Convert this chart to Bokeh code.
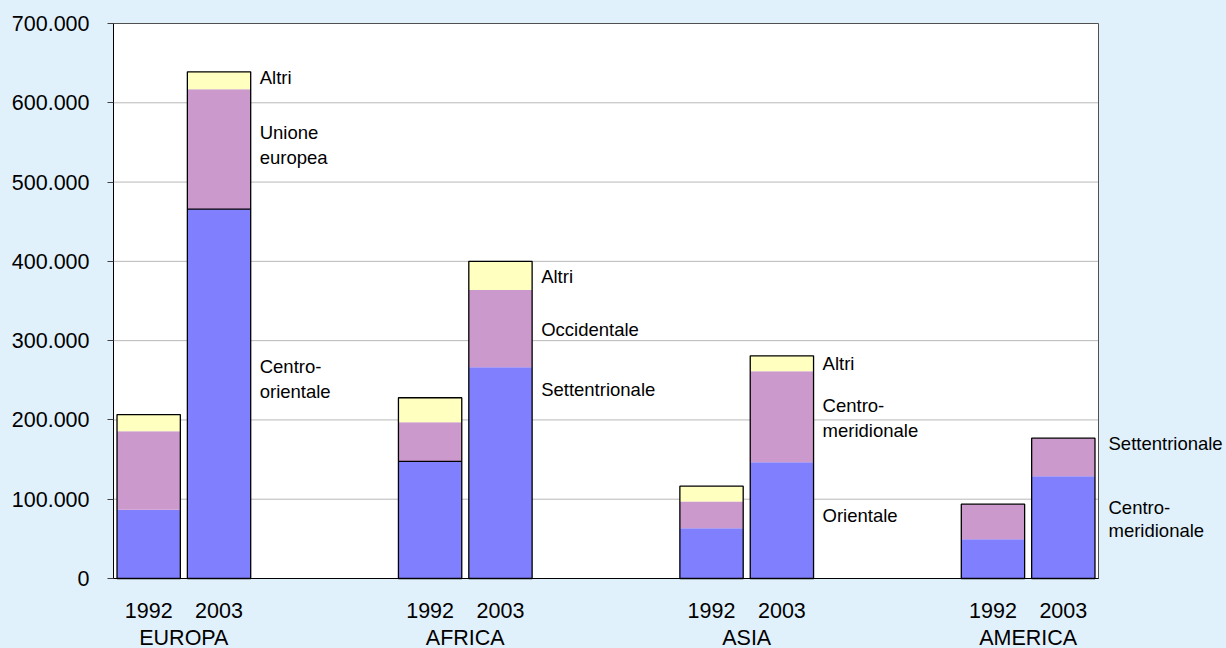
from bokeh.plotting import figure
from bokeh.models import Range1d, FixedTicker, Label, ColumnDataSource, LinearAxis
from bokeh.embed import file_html
from bokeh.resources import INLINE

# ---- data ----
groups = ["EUROPA", "AFRICA", "ASIA", "AMERICA"]
years = ["1992", "2003"]
# bars in order: EUROPA 1992, EUROPA 2003, AFRICA 1992, AFRICA 2003, ASIA 1992, ASIA 2003, AMERICA 1992, AMERICA 2003
seg_blue = [86600, 466000, 147600, 266500, 63500, 146700, 49600, 129000]
seg_purple = [99200, 151000, 49600, 97500, 33500, 114800, 44100, 48000]
seg_yellow = [21000, 22000, 30800, 36000, 19400, 19300, 0, 0]
# bars whose first segment shows a black edge on top (EUROPA 2003, AFRICA 1992)
edged_bars = [1, 2]
y_ticks = [0, 100000, 200000, 300000, 400000, 500000, 600000, 700000]
y_tick_labels = ["0", "100.000", "200.000", "300.000", "400.000", "500.000", "600.000", "700.000"]

# annotation labels next to the 2003 bars: (group index, text, value at label centre)
seg_labels = [
    (0, "Altri", 632000), (0, "Unione", 562500), (0, "europea", 531000),
    (0, "Centro-", 267400), (0, "orientale", 235900),
    (1, "Altri", 380900), (1, "Occidentale", 314100), (1, "Settentrionale", 238400),
    (2, "Altri", 271200), (2, "Centro-", 218200), (2, "meridionale", 186700), (2, "Orientale", 79500),
    (3, "Settentrionale", 170300), (3, "Centro-", 89500), (3, "meridionale", 60500),
]

BG = "#E0F1FC"
FONT = "Liberation Sans"
AX_FS = "21.5px"
ANN_FS = "18.5px"

# ---- layout (pixels) ----
W, H = 1226, 648
PL, PR, PT, PB = 113, 1098, 23, 578      # plot area edges in the page
PAD = 5                                   # frame extends a little past the plot area

SLOTS = 4  # 1992, 2003, two empty slots
xs, year_of = [], []
for gi, g in enumerate(groups):
    for yi, yv in enumerate(years):
        xs.append(gi * SLOTS + yi + 0.5)
        year_of.append(yv)
x_end = (len(groups) - 1) * SLOTS + len(years)
y_max = y_ticks[-1]
totals = [b + m + t for b, m, t in zip(seg_blue, seg_purple, seg_yellow)]
BAR_W = 0.9

px_x = x_end / (PR - PL)      # data per pixel
px_y = y_max / (PB - PT)

p = figure(width=W, height=H, output_backend="svg", toolbar_location=None,
           x_range=Range1d(-PAD * px_x, x_end + PAD * px_x),
           y_range=Range1d(-(H - PB) * px_y, y_max + PAD * px_y),
           min_border_left=PL - PAD, min_border_right=W - PR - PAD,
           min_border_top=PT - PAD, min_border_bottom=0)
p.background_fill_color = BG
p.border_fill_color = BG
p.outline_line_color = None
p.xaxis.visible = False
p.xgrid.visible = False
p.ygrid.visible = False

# white plot area
p.quad(left=[0], right=[x_end], bottom=[0], top=[y_max], fill_color="white",
       line_color=None, level="image")
# gridlines
grid_vals = y_ticks[1:-1]
p.segment(x0=[0] * len(grid_vals), x1=[x_end] * len(grid_vals), y0=grid_vals, y1=grid_vals,
          line_color="#B8B8B8", line_width=1, level="underlay")
# plot area border (top / right)
p.quad(left=[0], right=[x_end], bottom=[0], top=[y_max], fill_color=None,
       line_color="#505050", line_width=1, level="underlay")

src = ColumnDataSource(dict(x=xs, blue=seg_blue, purple=seg_purple, yellow=seg_yellow, total=totals))
p.vbar_stack(["blue", "purple", "yellow"], x="x", width=BAR_W, source=src,
             color=["#8080FF", "#CC99CC", "#FFFFC0"], line_color=None)
p.vbar(x="x", top="total", bottom=0, width=BAR_W, source=src, fill_color=None,
       line_color="black", line_width=1.3)
# black edge between first and second segment for some bars
p.segment(x0=[xs[i] - BAR_W / 2 for i in edged_bars], x1=[xs[i] + BAR_W / 2 for i in edged_bars],
          y0=[seg_blue[i] for i in edged_bars], y1=[seg_blue[i] for i in edged_bars],
          line_color="black", line_width=1.3)

# axis lines (left / bottom), black
p.segment(x0=[0, 0], x1=[0, x_end], y0=[0, 0], y1=[y_max, 0], line_color="black", line_width=1)

# y axis (ticks + labels only)
p.yaxis.ticker = FixedTicker(ticks=y_ticks)
p.yaxis.major_label_overrides = {t: l for t, l in zip(y_ticks, y_tick_labels)}
p.yaxis.minor_tick_line_color = None
p.yaxis.axis_line_color = None
p.yaxis.major_tick_out = 1
p.yaxis.major_tick_in = PAD
p.yaxis.major_tick_line_color = "#404040"
p.yaxis.major_label_standoff = 18
p.yaxis.major_label_text_font = FONT
p.yaxis.major_label_text_font_size = AX_FS
p.yaxis.major_label_text_color = "black"

# year labels and group names under the bars
p.text(x=xs, y=[0] * len(xs), text=year_of, y_offset=31.5, text_align="center",
       text_baseline="middle", text_font={"value": FONT}, text_font_size=AX_FS, text_color="black")
g_x = [gi * SLOTS + len(years) / 2 for gi in range(len(groups))]
p.text(x=g_x, y=[0] * len(g_x), text=groups, y_offset=59, text_align="center",
       text_baseline="middle", text_font={"value": FONT}, text_font_size=AX_FS, text_color="black")

# segment labels: inside the plot area as Labels; last group (outside the frame) via a right axis
last = len(groups) - 1
right_vals = [yv for gi, txt, yv in seg_labels if gi == last]
right_txts = [txt for gi, txt, yv in seg_labels if gi == last]
rax = LinearAxis(ticker=FixedTicker(ticks=right_vals),
                 major_label_overrides={v: t for v, t in zip(right_vals, right_txts)},
                 axis_line_color=None, major_tick_line_color=None, minor_tick_line_color=None,
                 major_tick_out=0, major_tick_in=0, major_label_standoff=10 - PAD,
                 major_label_text_font=FONT, major_label_text_font_size=ANN_FS,
                 major_label_text_color="black")
p.add_layout(rax, "right")

for gi, txt, yv in seg_labels:
    if gi == last:
        continue
    p.add_layout(Label(x=gi * SLOTS + len(years) - 0.05, y=yv, x_offset=9, text=txt, text_align="left",
                       text_baseline="middle", text_font=FONT, text_font_size=ANN_FS,
                       text_color="black"))

html = file_html(p, INLINE)
html = html.replace("</head>", "<style>html, body { background: %s; }</style></head>" % BG, 1)
open("out.html", "w").write(html)
